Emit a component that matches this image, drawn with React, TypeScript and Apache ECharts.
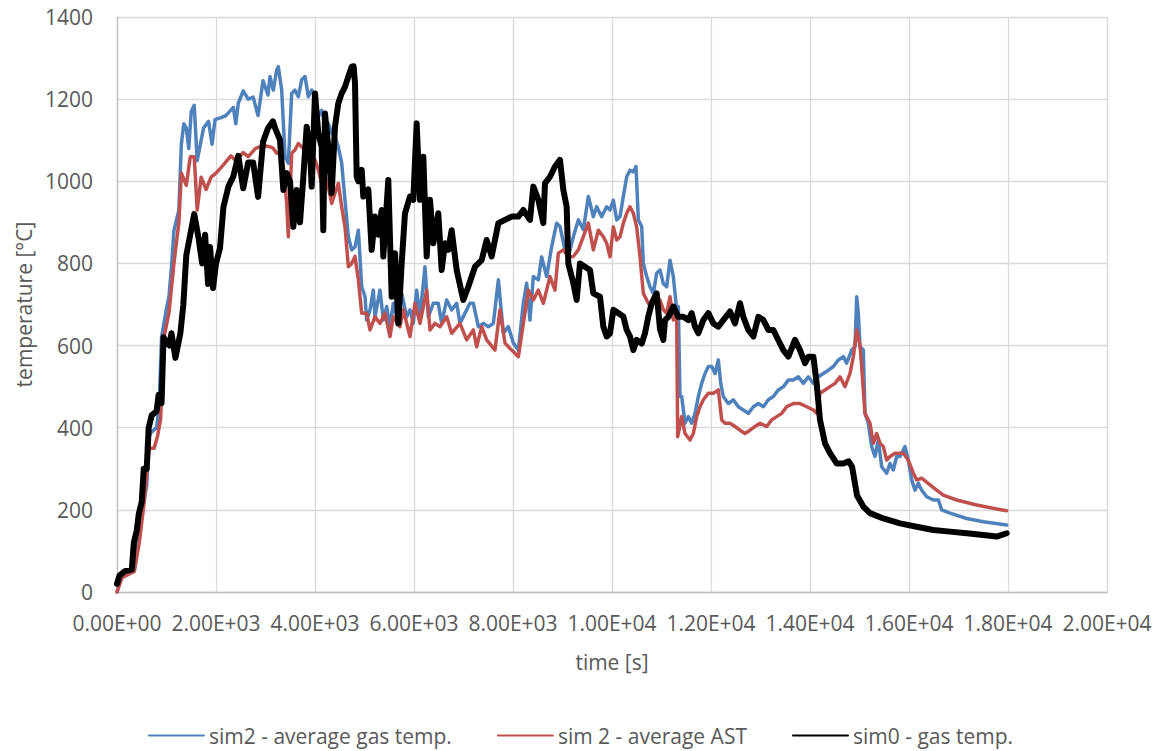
import React, { useEffect, useRef } from "react";
import * as echarts from "echarts";

const xTicks = { min: 0, max: 20000, interval: 2000 };
const yTicks = { min: 0, max: 1400, interval: 200 };

const seriesNames = ["sim2 - average gas temp.", "sim 2 - average AST", "sim0 - gas temp."];

const sim2Gas: [number, number][] = [
  [0, 0], [100, 40], [300, 50], [400, 100], [500, 190], [600, 260], [650, 380], [700, 390], [800, 400], [850, 450],
  [900, 620], [1000, 690], [1050, 720], [1100, 790], [1150, 880], [1250, 930], [1300, 1090], [1350, 1140], [1400, 1130],
  [1450, 1080], [1500, 1170], [1560, 1185], [1620, 1050], [1700, 1100], [1750, 1130], [1850, 1146], [1920, 1090],
  [1980, 1150], [2100, 1155], [2200, 1160], [2350, 1180], [2400, 1140], [2450, 1190], [2550, 1220], [2650, 1200],
  [2750, 1205], [2850, 1160], [2950, 1245], [3050, 1210], [3091, 1255], [3158, 1222], [3226, 1271], [3259, 1279],
  [3327, 1222], [3394, 1060], [3461, 1044], [3529, 1214], [3596, 1222], [3663, 1206], [3731, 1247], [3798, 1255],
  [3865, 1206], [3933, 1222], [4000, 1206], [4067, 1157], [4135, 1173], [4202, 1133], [4269, 1141], [4337, 1117],
  [4404, 1109], [4471, 1084], [4539, 1044], [4606, 954], [4674, 865], [4741, 833], [4808, 840], [4876, 881],
  [4943, 744], [5010, 719], [5044, 662], [5111, 687], [5178, 735], [5212, 670], [5313, 735], [5380, 662], [5448, 695],
  [5515, 646], [5582, 703], [5650, 670], [5751, 727], [5852, 670], [5919, 687], [5986, 654], [6054, 735], [6121, 670],
  [6222, 792], [6289, 670], [6390, 703], [6491, 703], [6559, 654], [6660, 711], [6761, 687], [6862, 703], [6929, 654],
  [7030, 679], [7131, 703], [7199, 703], [7300, 646], [7401, 654], [7502, 646], [7603, 654], [7704, 760], [7805, 630],
  [7906, 646], [8007, 606], [8108, 589], [8209, 703], [8276, 752], [8343, 662], [8411, 768], [8512, 760], [8579, 816],
  [8680, 768], [8781, 841], [8882, 898], [8949, 890], [9050, 833], [9118, 816], [9219, 865], [9320, 906], [9421, 882],
  [9522, 963], [9623, 914], [9690, 938], [9791, 914], [9892, 938], [9960, 930], [10027, 954], [10095, 906],
  [10162, 914], [10229, 963], [10297, 1011], [10364, 1027], [10431, 1023], [10485, 1036], [10532, 906], [10600, 890],
  [10633, 800], [10701, 768], [10768, 743], [10835, 727], [10903, 776], [10970, 784], [11037, 751], [11105, 743],
  [11172, 808], [11239, 768], [11307, 687], [11340, 695], [11374, 476], [11408, 476], [11475, 411], [11542, 427],
  [11610, 411], [11677, 435], [11744, 476], [11812, 508], [11879, 532], [11946, 549], [12014, 549], [12081, 532],
  [12148, 565], [12196, 508], [12249, 476], [12350, 459], [12451, 468], [12552, 451], [12653, 443], [12754, 435],
  [12856, 451], [12957, 459], [13058, 451], [13159, 468], [13260, 476], [13361, 492], [13462, 500], [13563, 516],
  [13664, 516], [13765, 524], [13866, 508], [13967, 524], [14068, 508], [14169, 524], [14270, 532], [14371, 540],
  [14472, 549], [14573, 565], [14674, 573], [14741, 557], [14842, 589], [14909, 597], [14943, 719], [14976, 679],
  [15010, 597], [15077, 589], [15111, 435], [15178, 411], [15246, 354], [15313, 330], [15380, 370], [15448, 305],
  [15549, 289], [15616, 313], [15683, 297], [15751, 330], [15818, 330], [15919, 354], [15986, 321], [16054, 273],
  [16121, 248], [16188, 265], [16256, 248], [16357, 232], [16492, 224], [16593, 224], [16660, 200], [16828, 192],
  [17165, 179], [17502, 171], [17973, 163],
];

const sim2Ast: [number, number][] = [
  [0, 0], [100, 35], [350, 50], [450, 120], [550, 220], [650, 350], [750, 350], [820, 380], [880, 420], [950, 620],
  [1050, 680], [1150, 800], [1250, 900], [1300, 1020], [1400, 990], [1480, 1060], [1560, 1060], [1620, 930],
  [1700, 1010], [1800, 980], [1900, 1010], [2000, 1020], [2150, 1040], [2300, 1062], [2400, 1050], [2550, 1070],
  [2650, 1060], [2800, 1080], [2950, 1087], [3091, 1084], [3158, 1080], [3226, 1068], [3293, 1070], [3360, 1036],
  [3428, 946], [3461, 865], [3529, 1068], [3596, 1076], [3663, 1092], [3731, 1084], [3798, 1076], [3865, 1052],
  [3933, 1060], [4000, 1052], [4067, 1028], [4135, 995], [4202, 1011], [4269, 987], [4337, 946], [4404, 971],
  [4471, 995], [4539, 938], [4606, 889], [4674, 792], [4741, 800], [4808, 817], [4876, 760], [4943, 679], [5044, 679],
  [5111, 638], [5212, 670], [5313, 654], [5414, 679], [5515, 622], [5582, 670], [5717, 646], [5784, 687], [5919, 622],
  [6020, 703], [6121, 654], [6256, 735], [6323, 638], [6424, 654], [6525, 646], [6660, 670], [6761, 630], [6929, 654],
  [7064, 614], [7199, 638], [7266, 597], [7367, 646], [7468, 614], [7636, 589], [7737, 687], [7838, 606], [7973, 589],
  [8108, 573], [8209, 654], [8310, 735], [8411, 711], [8512, 735], [8613, 703], [8747, 768], [8848, 735], [8916, 825],
  [9017, 833], [9118, 816], [9219, 817], [9320, 833], [9421, 865], [9522, 898], [9623, 833], [9724, 881], [9825, 865],
  [9893, 849], [9960, 816], [10027, 889], [10095, 857], [10162, 865], [10229, 898], [10297, 922], [10364, 938],
  [10431, 922], [10498, 889], [10566, 816], [10633, 727], [10701, 711], [10768, 695], [10835, 719], [10903, 711],
  [10970, 711], [11037, 687], [11105, 679], [11172, 719], [11239, 662], [11307, 670], [11327, 378], [11408, 427],
  [11475, 386], [11576, 370], [11643, 386], [11711, 427], [11778, 451], [11845, 468], [11946, 484], [12047, 484],
  [12148, 492], [12216, 419], [12283, 411], [12384, 411], [12485, 403], [12586, 394], [12687, 386], [12788, 394],
  [12889, 403], [12990, 411], [13125, 403], [13226, 419], [13327, 427], [13428, 435], [13529, 451], [13664, 459],
  [13798, 459], [13933, 451], [14068, 443], [14135, 435], [14202, 484], [14303, 492], [14404, 500], [14505, 508],
  [14606, 524], [14707, 500], [14808, 532], [14876, 573], [14943, 638], [15010, 600], [15044, 549], [15111, 435],
  [15212, 411], [15279, 362], [15347, 386], [15414, 362], [15481, 354], [15549, 321], [15616, 330], [15717, 338],
  [15886, 338], [15986, 321], [16088, 289], [16155, 273], [16256, 277], [16424, 261], [16559, 248], [16693, 236],
  [16963, 224], [17367, 212], [17771, 202], [17973, 198],
];

const sim0Gas: [number, number][] = [
  [0, 20], [50, 40], [150, 50], [300, 55], [340, 120], [400, 150], [440, 190], [500, 220], [540, 300], [600, 300],
  [640, 400], [700, 430], [800, 440], [840, 480], [900, 460], [940, 620], [1000, 610], [1060, 600], [1100, 630],
  [1180, 570], [1280, 630], [1340, 700], [1400, 820], [1480, 870], [1560, 920], [1650, 860], [1720, 800], [1780, 870],
  [1840, 750], [1880, 840], [1940, 740], [2000, 800], [2080, 837], [2150, 937], [2250, 987], [2350, 1012],
  [2450, 1062], [2550, 983], [2650, 1046], [2750, 1046], [2850, 962], [2950, 1096], [3050, 1129], [3150, 1146],
  [3192, 1130], [3293, 1101], [3360, 979], [3428, 1020], [3495, 1000], [3562, 889], [3630, 979], [3697, 900],
  [3764, 1010], [3832, 1133], [3899, 1076], [3933, 987], [4000, 1214], [4067, 1117], [4135, 1084], [4168, 881],
  [4202, 1165], [4269, 1084], [4337, 971], [4404, 1133], [4471, 1190], [4539, 1214], [4606, 1230], [4674, 1255],
  [4741, 1279], [4780, 1280], [4808, 1239], [4842, 1011], [4876, 1000], [4943, 1028], [4976, 963], [5077, 980],
  [5145, 833], [5212, 914], [5279, 870], [5347, 930], [5380, 817], [5481, 1003], [5549, 719], [5616, 825], [5683, 654],
  [5751, 800], [5818, 922], [5919, 963], [5986, 955], [6054, 1141], [6121, 955], [6188, 1060], [6256, 817],
  [6323, 955], [6390, 849], [6491, 922], [6559, 784], [6626, 849], [6693, 833], [6761, 881], [6862, 784], [6996, 711],
  [7098, 744], [7232, 792], [7367, 808], [7468, 857], [7569, 817], [7704, 898], [7838, 906], [7973, 914], [8108, 914],
  [8209, 930], [8343, 906], [8411, 987], [8512, 955], [8613, 898], [8646, 995], [8747, 1011], [8848, 1036],
  [8949, 1052], [9017, 979], [9084, 938], [9118, 800], [9219, 752], [9286, 711], [9353, 800], [9454, 792], [9555, 784],
  [9623, 727], [9757, 719], [9825, 646], [9893, 622], [9960, 630], [10027, 687], [10128, 679], [10229, 671],
  [10297, 638], [10364, 622], [10431, 589], [10498, 614], [10600, 605], [10667, 630], [10734, 671], [10802, 703],
  [10903, 727], [10970, 640], [11037, 614], [11071, 662], [11138, 670], [11239, 695], [11340, 670], [11441, 670],
  [11542, 662], [11610, 679], [11677, 646], [11744, 630], [11845, 662], [11946, 679], [12047, 654], [12148, 646],
  [12249, 662], [12384, 683], [12485, 654], [12586, 703], [12653, 670], [12754, 638], [12856, 622], [12957, 670],
  [13058, 662], [13159, 638], [13260, 638], [13361, 613], [13462, 589], [13563, 573], [13697, 614], [13798, 589],
  [13899, 557], [13967, 573], [14068, 573], [14135, 508], [14202, 419], [14303, 362], [14404, 338], [14539, 313],
  [14674, 313], [14780, 318], [14850, 305], [14900, 270], [14950, 235], [15077, 208], [15212, 192], [15481, 179],
  [15818, 167], [16155, 159], [16492, 151], [16828, 147], [17165, 143], [17502, 139], [17771, 135], [17973, 143],
];

const colors = ["#4f81bd", "#c0504d", "#000000"];
const FONT = "'Open Sans', 'Noto Sans', sans-serif";
const TXT = "#595959";
const FS = 21;

function sci(v: number): string {
  if (v === 0) return "0.00E+00";
  const [m, e] = v.toExponential(2).split("e");
  const ei = parseInt(e, 10);
  return m + "E" + (ei < 0 ? "-" : "+") + String(Math.abs(ei)).padStart(2, "0");
}

export default function App() {
  const ref = useRef<HTMLDivElement>(null);
  useEffect(() => {
    if (!ref.current) return;
    const chart = echarts.init(ref.current, undefined, { renderer: "svg" });
    const datasets = [sim2Gas, sim2Ast, sim0Gas];
    const widths = [3.5, 3.5, 6];
    chart.setOption({
      animation: false,
      backgroundColor: "#ffffff",
      textStyle: { fontFamily: FONT },
      grid: { left: 117, right: 54, top: 17, bottom: 159, containLabel: false },
      legend: {
        data: seriesNames,
        left: "center",
        top: 720,
        itemWidth: 55,
        itemHeight: 14,
        itemGap: 45,
        itemStyle: { opacity: 0 },
        textStyle: { fontFamily: FONT, fontSize: FS, color: TXT },
      },
      xAxis: {
        type: "value",
        min: xTicks.min,
        max: xTicks.max,
        interval: xTicks.interval,
        name: "time [s]",
        nameLocation: "middle",
        nameGap: 59,
        nameTextStyle: { fontFamily: FONT, fontSize: FS, color: TXT },
        axisLine: { show: true, lineStyle: { color: "#bfbfbf", width: 1.3 } },
        axisTick: { show: false },
        axisLabel: { formatter: (v: number) => sci(v), fontFamily: FONT, fontSize: FS, color: TXT, margin: 20 },
        splitLine: { show: true, lineStyle: { color: "#d9d9d9", width: 1.3 } },
      },
      yAxis: {
        type: "value",
        min: yTicks.min,
        max: yTicks.max,
        interval: yTicks.interval,
        name: "temperature [°C]",
        nameLocation: "middle",
        nameGap: 80,
        nameTextStyle: { fontFamily: FONT, fontSize: FS, color: TXT },
        axisLine: { show: true, lineStyle: { color: "#bfbfbf", width: 1.3 } },
        axisTick: { show: false },
        axisLabel: { formatter: (v: number) => String(v), fontFamily: FONT, fontSize: FS, color: TXT, margin: 24 },
        splitLine: { show: true, lineStyle: { color: "#d9d9d9", width: 1.3 } },
      },
      series: datasets.map((d, i) => ({
        name: seriesNames[i],
        type: "line",
        data: d,
        symbol: "none",
        showSymbol: false,
        color: colors[i],
        lineStyle: { color: colors[i], width: widths[i], join: "round", cap: "round" },
        z: 2 + i,
      })),
    });
    return () => chart.dispose();
  }, []);
  return <div ref={ref} style={{ position: "fixed", left: 0, top: 0, width: 1161, height: 751 }} />;
}
